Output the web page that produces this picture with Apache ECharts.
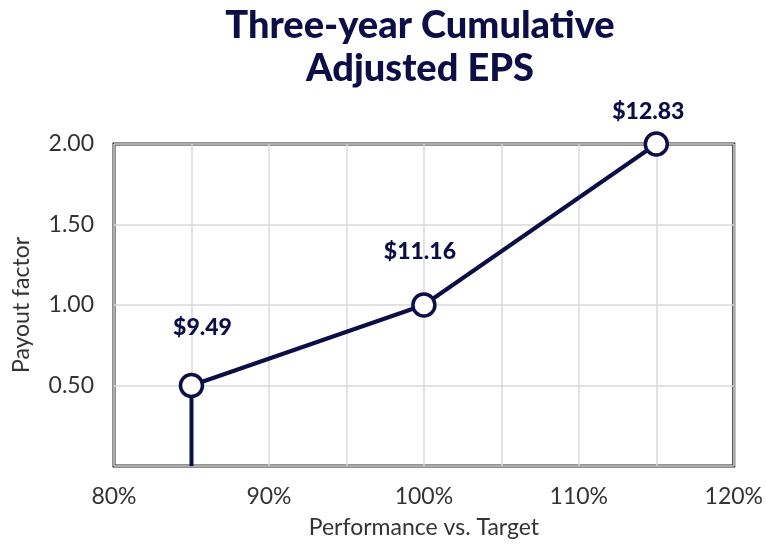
<!DOCTYPE html>
<html>
<head>
<meta charset="utf-8">
<script src="https://cdn.jsdelivr.net/npm/echarts@6/dist/echarts.min.js"></script>
<style>
  html, body { margin: 0; padding: 0; background: #fff; }
  #chart { width: 766px; height: 544px; }
</style>
</head>
<body>
<div id="chart"></div>
<script>
// performance (% of target) vs payout factor
var perf = [85, 100, 115]
var payout = [0.5, 1.0, 2.0]
var epsLabels = ['$9.49', '$11.16', '$12.83']
// label nudges, px (x, y)
var labelOffsets = [[11, -4], [-4, 1], [-8, 22]]

var navy = '#0c0e45'

var chart = echarts.init(document.getElementById('chart'))

var points = perf.map(function (p, i) {
  return {
    value: [p, payout[i]],
    label: {
      show: true,
      formatter: epsLabels[i],
      position: 'top',
      distance: 30,
      offset: labelOffsets[i]
    }
  }
})

var option = {
  animation: false,
  title: {
    text: 'Three-year Cumulative\nAdjusted EPS',
    left: 415,
    top: -1,
    textAlign: 'center',
    textStyle: {
      fontFamily: 'Lato',
      fontWeight: 900,
      fontSize: 38,
      lineHeight: 43,
      color: navy
    }
  },
  grid: {
    left: 114,
    right: 25,
    top: 144,
    bottom: 78,
    show: true,
    borderColor: '#262626',
    borderWidth: 3,
    backgroundColor: '#fff'
  },
  xAxis: {
    type: 'value',
    min: 80,
    max: 120,
    interval: 5,
    name: 'Performance vs. Target',
    nameLocation: 'middle',
    nameGap: 50,
    nameTextStyle: { fontFamily: 'Lato', fontSize: 23, color: '#333' },
    axisLine: { show: false },
    axisTick: { show: false },
    axisLabel: {
      margin: 19,
      fontFamily: 'Lato',
      fontSize: 23,
      color: '#333',
      formatter: function (v) { return v % 10 === 0 ? v + '%' : '' }
    },
    splitLine: { show: true, lineStyle: { color: '#d9d9d9', width: 1.5 } }
  },
  yAxis: {
    type: 'value',
    min: 0,
    max: 2,
    interval: 0.5,
    name: 'Payout factor',
    nameLocation: 'middle',
    nameGap: 81,
    nameTextStyle: { fontFamily: 'Lato', fontSize: 23, color: '#333' },
    axisLine: { show: false },
    axisTick: { show: false },
    axisLabel: {
      margin: 20,
      fontFamily: 'Lato',
      fontSize: 23,
      color: '#333',
      formatter: function (v) { return v === 0 ? '' : v.toFixed(2) }
    },
    splitLine: { show: true, lineStyle: { color: '#d9d9d9', width: 1.5 } }
  },
  series: [
    {
      // drop line from threshold point to the axis
      type: 'line',
      data: [[perf[0], 0], [perf[0], payout[0]]],
      symbol: 'none',
      lineStyle: { color: navy, width: 4 },
      z: 2
    },
    {
      type: 'line',
      data: points,
      symbol: 'circle',
      symbolSize: 22,
      lineStyle: { color: navy, width: 4 },
      itemStyle: { color: '#fff', borderColor: navy, borderWidth: 3.5 },
      label: {
        fontFamily: 'Lato',
        fontWeight: 900,
        fontSize: 23,
        color: navy
      },
      z: 3
    }
  ]
}

chart.setOption(option)
</script>
</body>
</html>
